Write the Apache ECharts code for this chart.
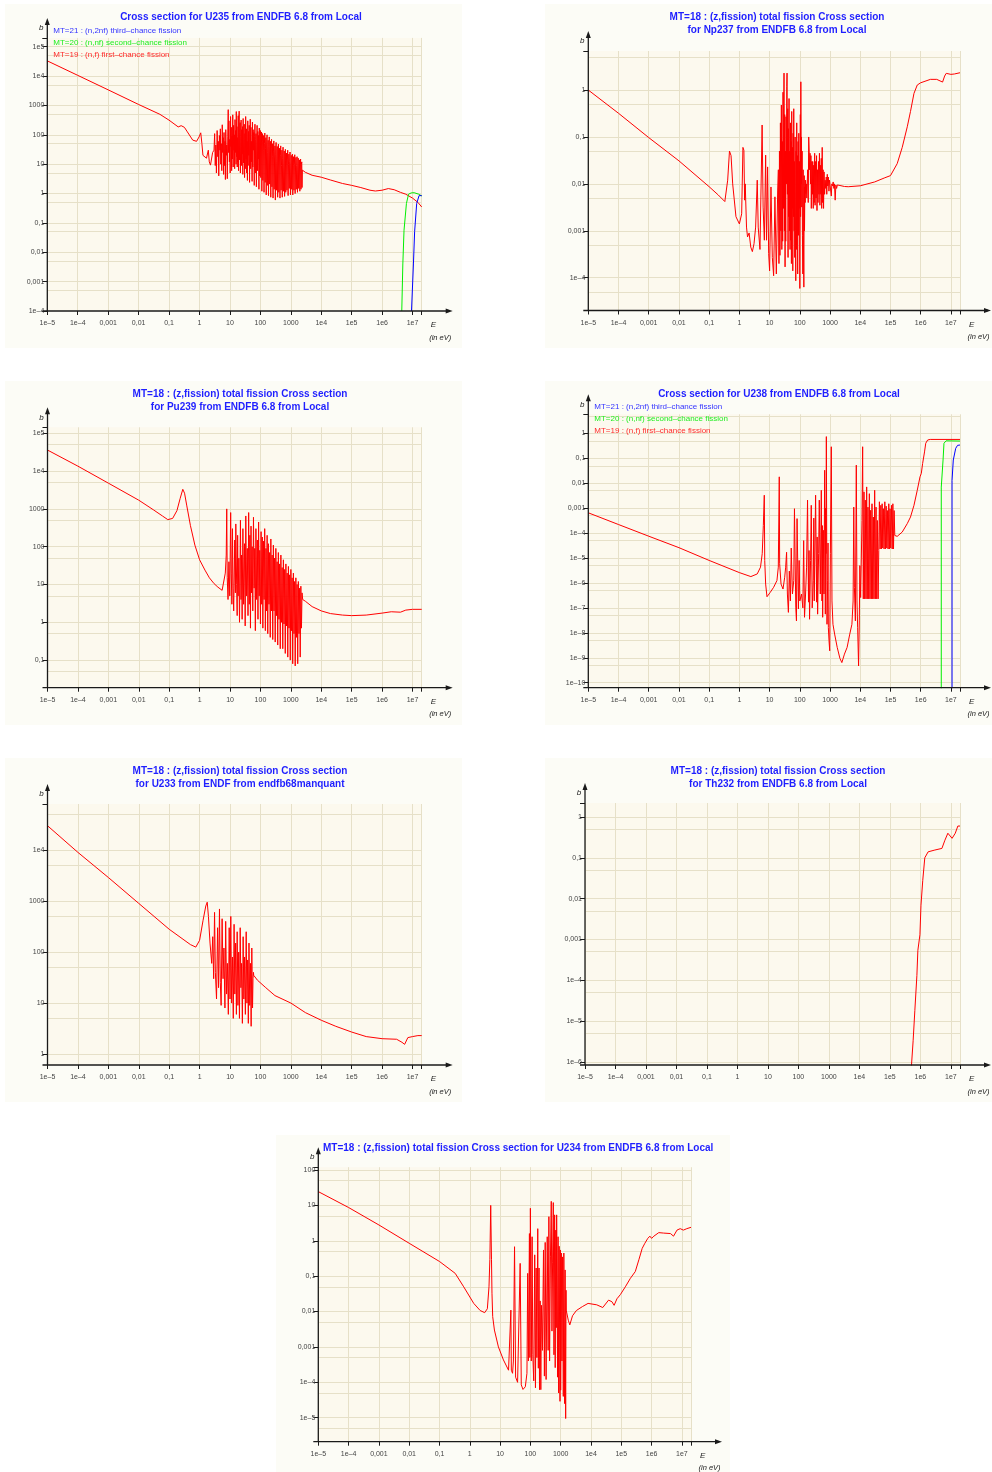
<!DOCTYPE html>
<html><head><meta charset="utf-8">
<script src="https://cdn.jsdelivr.net/npm/echarts@6/dist/echarts.min.js"></script>
<style>html,body{margin:0;padding:0;background:#fff}#c{width:992px;height:1472px}</style>
</head><body><div id="c"></div><script>
// ---------- tick labels ----------
const tickExponents = [-10,-9,-8,-7,-6,-5,-4,-3,-2,-1,0,1,2,3,4,5,6,7];
const tickLabels = ['1e–10','1e–9','1e–8','1e–7','1e–6','1e–5','1e–4','0,001','0,01','0,1','1','10','100','1000','1e4','1e5','1e6','1e7'];
const xMinE = 1e-5, xMaxE = 2e7;

// ---------- data: [E (eV), sigma (b)] ----------
const u235_mt19 = [[1e-5,3.3e4],[1e-4,1.06e4],[1e-3,3.4e3],[0.01,1.08e3],[0.05,500],[0.1,316],[0.2,186],[0.25,205],[0.28,214],[0.32,180],[0.4,126],[0.6,66],[0.8,60],[0.97,85],[1.1,117],[1.2,50],[1.3,20],[1.7,16],[1.95,30],[2.1,12],[2.3,9.3],[2.7,25],
[3.0,30],[3.15,110],[3.3,9],[3.45,45],[3.6,5],[3.8,140],[4.0,18],[4.15,60],[4.3,4],[4.5,95],[4.7,30],[4.85,160],[5.0,10],[5.2,50],[5.4,6],[5.6,220],[5.8,25],[6.0,80],[6.2,4.5],[6.4,120],[6.6,9],[6.9,60],[7.1,3],[7.3,150],[7.6,20],[7.9,45],[8.2,3.2],[8.5,90],[8.8,720],[9.0,25],[9.3,300],[9.6,12],[9.9,70],[10.2,5],[10.5,420],[10.8,40],[11.1,180],[11.4,6],[11.7,90],[12.0,15],[12.4,480],[12.8,8],[13.2,210],[13.6,30],[14.0,100],[14.3,7],[14.7,330],[15.1,25],[15.5,140],[15.9,10],[16.2,620],[16.6,18],[17.0,190],[17.4,8],[17.8,80],[18.2,12],[18.7,450],[19.2,6],[19.7,200],[20.1,640],[20.6,14],[21.1,120],[21.6,260],[22.1,5],[22.7,90],[23.3,320],[23.9,9],[24.5,150],[25.2,22],[25.9,190],[26.5,4.5],[27.2,360],[28,11],[28.7,70],[29.5,230],[30.3,3.5],[31.1,110],[32,7],[32.9,420],[33.8,15],[34.7,160],[35.6,5],[36.6,60],[37.6,2.8],[38.6,300],[39.7,9],[40.8,130],[41.9,20],[43,210],[44.2,2.4],[45.4,90],[46.6,340],[47.9,7],[49.2,180],[50.5,12],[52,60],[53.5,2.6],[55,270],[56.5,8],[58,150],[59.6,30],[61.2,120],[63,1.9],[64.7,90],[66.5,230],[68.3,5],[70.2,70],[72,110],[74,1.7],[76,45],[78.2,210],[80.4,6],[82.6,130],[85,15],[87.3,95],[89.8,1.4],[92.3,170],[95,4],[97.5,60],[100.3,140],[103,3.5],[106,40],[109,125],[112,1.2],[115,60],[118,110],[121,2.8],[125,30],[128.5,95],[132,1.1],[136,50],[140,115],[144,2.4],[148,35],[152,80],[156,0.9],[161,45],[166,100],[170,1.9],[175,25],[180,65],[185,0.85],[191,40],[196,85],[202,2.1],[208,20],[214,60],[220,0.75],[226,35],[233,70],[240,1.7],[247,18],[254,50],[261,0.7],[269,28],[277,62],[285,1.4],[293,15],[302,42],[311,0.6],[320,22],[329,55],[339,1.3],[349,12],[359,40],[370,0.75],[381,18],[392,48],[404,1.1],[416,10],[428,35],[441,0.7],[454,20],[467,42],[481,1.3],[495,9],[510,30],[525,0.75],[541,16],[557,38],[573,1.2],[590,8],[608,28],[626,0.8],[645,18],[664,32],[684,1.1],[704,9],[725,24],[747,1.3],[769,14],[792,30],[816,0.85],[840,10],[865,22],[891,1.5],[918,12],[945,26],[974,0.9],[1003,8],[1033,20],[1064,1.4],[1096,11],[1129,22],[1163,0.9],[1198,9],[1234,18],[1271,1.3],[1309,10],[1348,21],[1389,1],[1430,8],[1473,17],[1517,1.4],[1563,9],[1610,18],[1658,1.1],[1708,8],[1759,16],[1812,1.5],[1866,9],[1922,14],[1980,1.2],[2039,8],[2100,15],[2163,1.4],[2228,10],[2295,12],[2340,1.6],[2400,6.3],
[2500,6],[3000,5.3],[5000,4.2],[1e4,3.6],[2e4,2.9],[5e4,2.2],[1e5,1.9],[2e5,1.6],[4e5,1.3],[6e5,1.22],[1e6,1.3],[1.6e6,1.48],[2.5e6,1.35],[4e6,1.1],[6e6,0.95],[1e7,0.7],[1.5e7,0.5],[2e7,0.35]];
const u235_mt20 = [[4.43e6,1e-4],[4.8e6,4e-3],[5.25e6,0.056],[6.3e6,0.46],[7.4e6,0.95],[9e6,1.05],[1.13e7,1.07],[1.6e7,0.95],[2e7,0.83]];
const u235_mt21 = [[9.25e6,1e-4],[1.07e7,4e-3],[1.17e7,0.05],[1.37e7,0.46],[1.64e7,0.85],[2e7,0.85]];

const np237_mt18 = [[1e-5,1.0],[1e-4,0.32],[1e-3,0.097],[0.01,0.031],[0.1,8.7e-3],[0.2,5.8e-3],[0.33,4.2e-3],[0.41,0.012],[0.47,0.05],[0.53,0.04],[0.6,0.01],[0.77,2e-3],[1.0,1.4e-3],[1.19,2.3e-3],[1.31,0.06],[1.41,0.052],[1.49,4.5e-3],[1.56,0.01],[1.72,1.2e-3],[1.86,7.4e-4],[2.1,9e-4],[2.38,4.5e-4],[2.69,3.6e-4],[3.05,5.3e-4],[3.45,1.2e-3],[3.9,0.012],[4.2,1.2e-3],[4.8,4e-4],[5.65,0.18],[6.1,3.2e-3],[6.7,6.3e-4],[7.4,0.041],[7.9,6.3e-4],[8.6,0.023],[9.3,3.3e-4],[10,1.4e-4],[11.1,8.6e-3],[12.3,2.7e-4],[13.6,1.1e-4],[15,5.3e-3],[16.7,1.2e-4],[18.5,7.4e-3],
[19.5,0.02],[20.4,2e-4],[21.2,0.05],[22,3e-4],[22.8,0.2],[23.6,1e-3],[24.5,0.48],[25.4,4e-4],[26.4,0.08],[27.1,6e-4],[27.8,0.9],[28.6,3e-3],[29.3,0.2],[30,2.3],[30.8,1e-3],[31.6,0.3],[32.5,1.7e-4],[33.4,0.05],[34.2,6e-4],[35,0.27],[36,0.01],[37,1.2],[37.8,2.3],[38.8,6e-3],[39.8,0.4],[40.8,2.7e-4],[42,0.15],[43,2e-3],[44,0.66],[45.2,1e-3],[46.4,0.05],[47.6,4e-4],[48.8,0.2],[50,6.3e-4],[51.4,0.08],[52.7,2e-4],[54,0.35],[55.4,3e-3],[56.9,0.06],[58.5,1.4e-4],[60,0.12],[61.5,2e-3],[63,0.4],[64.6,1e-3],[66.2,0.03],[68,2.7e-4],[69.8,0.1],[71.6,1e-3],[73.5,8.6e-5],[75.4,0.05],[77.2,4e-4],[79,0.2],[81,1e-3],[83,0.04],[85,1.2e-4],[87.5,0.08],[90,8e-4],[92.6,0.12],[95,3e-3],[97.5,0.03],[100,5.9e-5],[104,0.3],[106,2e-3],[108,1.5],[111,0.01],[113.5,0.1],[116,3.2e-3],[119,0.05],[122,8e-4],[126,1.2e-4],[129,0.02],[132,5e-4],[136,6.3e-5],[140,0.015],[143,1e-3],[147,8.6e-3],[151,4e-3],[155,0.012],[158,6.2e-3],[164,0.01],[170,5e-3],[175,0.01],
[182,0.02],[190,0.004],[197,0.1],[204,0.05],[210,0.02],[218,0.045],[225,0.01],[233,0.04],[240,3e-3],[250,0.03],[260,6e-3],[268,0.03],[278,3e-3],[288,0.025],[298,4e-3],[310,0.045],[320,3.5e-3],[332,0.03],[345,5e-3],[358,0.04],[370,2.7e-3],[385,0.02],[400,4e-3],[415,0.03],[430,6e-3],[446,0.045],[462,3.5e-3],[478,0.025],[495,6e-3],[512,0.035],[530,3e-3],[550,0.06],[570,4e-3],[590,0.02],[610,3e-3],[635,0.018],[660,6e-3],[690,0.012],[720,0.008],[750,0.014],[780,0.006],[810,0.016],[840,0.009],[880,0.014],[920,0.007],[960,0.012],[1000,0.011],[1050,0.012],[1100,0.0055],[1150,0.01],[1200,0.009],[1270,0.011],[1340,0.008],[1400,0.01],[1480,0.0045],[1560,0.0095],[1650,0.008],[1750,0.0095],[1850,0.009],[2000,0.0092],[3000,0.0088],
[4e3,0.0087],[1e4,0.0091],[3e4,0.011],[6.5e4,0.0135],[1e5,0.015],[1.67e5,0.027],[2.45e5,0.06],[3.6e5,0.165],[4.6e5,0.35],[6e5,0.85],[7.7e5,1.28],[1e6,1.43],[2.1e6,1.69],[3.4e6,1.69],[5.3e6,1.48],[6.2e6,1.99],[7e6,2.27],[1e7,2.16],[1.3e7,2.2],[2e7,2.34]];

const pu239_mt18 = [[1e-5,3.6e4],[1e-4,1.35e4],[1e-3,4.8e3],[0.01,1.7e3],[0.03,950],[0.06,650],[0.09,520],[0.13,560],[0.18,900],[0.23,1.9e3],[0.28,3.3e3],[0.32,2.6e3],[0.38,1.2e3],[0.5,360],[0.7,110],[1,45],[1.5,24],[2.1,15],[3,10.5],[4,8.5],[5.5,7],
[7,20],[7.5,60],[7.8,1000],[8.1,15],[8.6,4],[9.2,40],[9.8,5],[10.5,800],[11,20],[11.5,3],[12,300],[12.6,8],[13.2,2],[14.3,150],[15,6],[15.5,400],[16.5,10],[17.2,1.5],[17.8,200],[18.5,5],[19.5,50],[20.5,1],[22,500],[23,4],[24,60],[25,1.2],[26.5,300],[28,3],[30,120],[31.5,0.8],[33,650],[35,5],[37,90],[39,1.5],[41,800],[43,3],[45,200],[47,0.7],[49,350],[51,6],[53.5,100],[56,2],[59,600],[62,8],[65,90],[68,0.6],[71,300],[75,4],[79,150],[83,1.2],[87,450],[91,5],[95,80],[100,0.9],[105,250],[110,3],[115,180],[120,0.7],[126,140],[132,4],[138,300],[145,0.6],[152,90],[159,2],[166,200],[174,0.5],[182,120],[191,3],[200,70],[210,0.4],[220,160],[231,2],[242,60],[254,0.35],[266,110],[279,2],[292,50],[306,0.3],[321,90],[337,1.5],[353,40],[370,0.25],[388,70],[407,1.2],[427,35],[448,0.2],[470,60],[493,1],[517,28],[542,0.2],[568,45],[596,0.9],[625,25],[655,0.15],[687,35],[720,0.8],[755,20],[792,0.12],[830,30],[870,0.7],[912,18],[956,0.1],[1000,25],[1050,0.6],[1100,15],[1150,0.08],[1210,20],[1270,0.5],[1330,12],[1390,0.07],[1460,15],[1530,0.4],[1600,10],[1680,0.08],[1760,12],[1850,0.5],[1940,8],[2030,0.12],[2130,9],[2230,0.7],[2330,6],[2450,4],
[3000,3.6],[5000,2.6],[1e4,2.0],[2e4,1.7],[5e4,1.55],[1e5,1.5],[3e5,1.55],[1e6,1.75],[2e6,1.9],[4e6,1.85],[6e6,2.1],[1e7,2.2],[2e7,2.2]];

const u238_mt19 = [[1e-5,6.5e-4],[1e-4,2.2e-4],[1e-3,7.5e-5],[0.01,2.6e-5],[0.1,8e-6],[1,2.6e-6],[2.4,1.8e-6],[3.9,2.3e-6],[5,4.3e-6],[5.7,1.5e-5],[6.2,2e-4],[6.67,3.3e-3],[6.9,8e-6],[7.4,9e-7],[8.2,2.8e-7],[10.5,4.2e-7],[13.6,6.7e-7],[17.5,1.25e-6],[19.4,4.3e-6],[20.9,0.018],[21.5,5.9e-6],[23.9,9e-7],[27.8,5.7e-7],[31.6,1.7e-6],[34,4.3e-6],[36.5,1.7e-5],[38.8,3.6e-7],[41.9,6.6e-8],[45,3e-6],[48.8,1.9e-7],[52,2.5e-5],[57,3.6e-7],[63,1.25e-6],[66.5,9.5e-4],[73.6,1e-7],[77.4,3e-8],[81,3.8e-4],[90,9e-8],[95,8e-6],[100,1.9e-7],[114,3.6e-7],[126,1e-7],[134,5e-5],[143,4.2e-8],[155,3.6e-7],[167,4.3e-6],[180,2.1e-3],[194,1.7e-7],[202,2e-5],[210,3.5e-8],[227,8e-6],[239,1.3e-3],[257,1e-7],[278,1.25e-6],[290,4e-4],[300,1.9e-7],[333,3.3e-3],[360,1.7e-7],[375,7e-5],[388,5.6e-8],[419,1.5e-5],[441,2.1e-3],[476,3.6e-7],[514,5.2e-3],[541,1.9e-7],[556,2e-4],[570,4.2e-8],[600,1.3e-4],[631,3.6e-7],[664,0.033],[699,5.6e-8],[717,1e-3],[736,1.5e-5],[755,0.74],[794,2.2e-8],[836,1.25e-6],[858,4e-5],[880,1.6e-8],[926,4.8e-9],[975,1.9e-9],[1026,1.5e-5],[1100,0.29],[1160,1.9e-7],[1250,2.2e-8],[1420,8.9e-9],[1730,2.6e-9],[2120,9.5e-10],[2460,6.4e-10],[2720,7.4e-10],[3000,1.4e-9],[3670,2.6e-9],[4500,8.9e-9],[5300,2.2e-8],[5800,1.9e-7],[6100,1.1e-3],[6400,6.7e-7],[6900,3e-8],[7400,0.053],[7800,1.9e-7],[8200,1.6e-8],[8800,4.7e-10],[9300,3e-8],[9700,5e-6],
[1.03e4,2.6e-7],[1.14e4,3.2e-4],[1.2e4,0.29],[1.26e4,2.3e-7],[1.33e4,4.5e-3],[1.4e4,2.3e-7],[1.47e4,2.1e-3],[1.55e4,2.3e-7],[1.63e4,7.1e-3],[1.71e4,2.3e-7],[1.8e4,1.1e-3],[1.9e4,2.3e-7],[2e4,3.8e-3],[2.1e4,2.3e-7],[2.21e4,8.2e-4],[2.33e4,2.3e-7],[2.45e4,1.5e-3],[2.58e4,2.3e-7],[2.71e4,4.4e-4],[2.85e4,2.3e-7],[3e4,5.2e-3],[3.16e4,2.3e-7],[3.33e4,1.1e-3],[3.5e4,2.3e-7],[3.69e4,3.2e-4],[3.9e4,2.3e-7],[4.1e4,2e-5],
[4.3e4,1.8e-3],[4.55e4,2.3e-5],[4.8e4,1.3e-3],[5.05e4,2.3e-5],[5.3e4,1.5e-3],[5.55e4,2.5e-5],[5.8e4,9.5e-4],[6.15e4,2.3e-5],[6.5e4,1.8e-3],[6.85e4,2.3e-5],[7.2e4,1.2e-3],[7.55e4,2.5e-5],[7.9e4,8e-4],[8.35e4,2.3e-5],[8.8e4,1.5e-3],[9.25e4,2.3e-5],[9.7e4,9.5e-4],[1.02e5,2.5e-5],[1.08e5,1.3e-3],[1.14e5,2.3e-5],[1.2e5,1.5e-3],[1.26e5,2.3e-5],[1.32e5,8e-4],[1.39e5,8e-5],
[1.67e5,7.4e-5],[2.45e5,1.1e-4],[3.6e5,2.4e-4],[4.6e5,4.4e-4],[6e5,1.3e-3],[7.7e5,5.2e-3],[9.5e5,0.018],[1.05e6,0.025],[1.16e6,0.062],[1.34e6,0.18],[1.47e6,0.4],[1.7e6,0.54],[2.07e6,0.57],[2e7,0.57]];
const u238_mt20 = [[4.8e6,1e-12],[4.8e6,7e-3],[5.5e6,0.085],[5.9e6,0.4],[6.9e6,0.5],[2e7,0.49]];
const u238_mt21 = [[1.09e7,1e-12],[1.09e7,0.013],[1.2e7,0.085],[1.44e7,0.25],[1.66e7,0.33],[2e7,0.34]];

const u233_mt18 = [[1e-5,3e4],[1e-4,9e3],[1e-3,2.9e3],[0.01,900],[0.1,280],[0.5,140],[0.75,125],[1.0,170],[1.3,420],[1.6,800],[1.78,950],[1.95,500],[2.2,150],[2.5,60],
[2.7,200],[2.9,30],[3.1,600],[3.3,40],[3.6,12],[3.9,300],[4.2,20],[4.5,700],[4.8,25],[5.1,9],[5.5,450],[5.9,30],[6.3,120],[6.8,8],[7.2,400],[7.7,15],[8.2,60],[8.8,6],[9.4,300],[10,12],[10.6,500],[11.3,10],[12,80],[12.8,5],[13.6,350],[14.4,15],[15.3,150],[16.2,6],[17.2,250],[18.2,9],[19.3,100],[20.4,5],[21.6,300],[22.8,20],[24,60],[25.5,4],[27,200],[28.5,12],[30,80],[32,6],[34,250],[36,10],[38,70],[40,4],[42,150],[44.5,9],[47,60],[49.5,3.5],[52,120],[55,8],[57,30],[59,40],[60,35],
[80,28],[150,20],[300,14],[1000,10],[3000,6.5],[1e4,4.6],[3e4,3.5],[1e5,2.7],[3e5,2.2],[1e6,2.0],[3e6,1.95],[4.5e6,1.7],[5.5e6,1.55],[7e6,2.1],[1e7,2.2],[1.5e7,2.3],[2e7,2.3]];

const th232_mt18 = [[4.9e5,5e-7],[5.8e5,3.3e-6],[6.6e5,1.8e-5],[7.7e5,1.3e-4],[8.3e5,5.4e-4],[9.7e5,1.3e-3],[1.05e6,6.9e-3],[1.2e6,0.028],[1.4e6,0.1],[1.8e6,0.14],[3e6,0.155],[5.1e6,0.17],[6.4e6,0.27],[8e6,0.4],[1.1e7,0.3],[1.4e7,0.4],[1.7e7,0.6],[2e7,0.6]];

const u234_mt18 = [[1e-5,24.5],[1e-4,8.7],[1e-3,2.8],[0.01,0.85],[0.1,0.26],[0.33,0.12],[0.63,0.05],[1.35,0.017],[2.2,0.0107],[3.1,9.3e-3],[3.8,0.012],[4.3,0.05],[4.6,0.3],[4.9,10],[5.2,0.3],[5.4,0.033],[5.7,7.2e-3],[6.5,3e-3],[8.8,1e-3],[12.9,4.3e-4],[19,2.2e-4],[21.5,2e-4],[22.7,0.011],[23.5,2.2e-4],[25.8,1.8e-4],[27.5,4e-4],[30,0.68],[32.5,1.4e-4],[37.8,1e-4],[44,1.1e-4],[46,0.23],[50,8.5e-5],[57,6.3e-5],[68,7.5e-5],[77,1.8e-4],[81.5,0.12],[86,4e-4],[93,1.6],[96,5e-4],[100,8.3],[107,4e-4],[114,1.3],[120,6e-4],[129,1.1e-4],[139,0.4],[147,7e-5],[155,0.17],[164,5e-4],[175,2.2],[183,2.5e-4],[193,0.17],[200,6.2e-5],[210,0.02],[221,6.2e-5],[232,0.015],[250,8e-4],[271,0.55],[290,1.5e-4],[308,0.9],[330,1.2e-4],[360,1.3],[385,8e-4],[408,4.8],[430,4e-4],[460,0.35],[489,13],[515,2.8e-3],[540,0.25],[570,12],[600,6e-4],[631,5.4],[660,2.6e-4],[690,2],[715,3.5e-3],[736,5.4],[790,1.4e-4],[820,1.3],[857,5e-5],[890,0.7],[950,2.9e-5],[980,0.55],[1000,6e-5],[1050,0.45],[1100,4e-4],[1150,0.35],[1220,4e-5],[1270,0.45],[1350,2.5e-5],[1400,0.15],[1460,9.5e-6],[1500,0.04],[1520,0.011],[1780,5.7e-3],[2000,4.2e-3],[2460,7.6e-3],[3300,0.0107],[5200,0.0138],[8000,0.017],[1.55e4,0.0155],[2.45e4,0.013],[3.8e4,0.021],[4.9e4,0.019],[5.8e4,0.015],[7.2e4,0.023],[9.3e4,0.03],[1.05e5,0.027],[1.36e5,0.05],[2e5,0.087],[2.9e5,0.135],[3.8e5,0.29],[4.9e5,0.61],[6e5,0.85],[7.5e5,1.17],[8.8e5,1.35],[1e6,1.17],[1.19e6,1.35],[1.73e6,1.7],[2.5e6,1.65],[4.2e6,1.6],[5.3e6,1.35],[6.9e6,2.0],[8.8e6,2.2],[1.12e7,2.0],[1.45e7,2.2],[2e7,2.4]];

// ---------- style ----------
const FONT = '"Liberation Sans", Arial, Helvetica, sans-serif';
const RED = '#ff0000', GREEN = '#00ee00', BLUE = '#0000ff';
const TITLE_C = '#1f1fff', AXIS_C = '#1a1a1a', LABEL_C = '#444444', GRID_C = '#e6e0c8', PLOT_BG = '#fcf9ee', PANEL_BG = '#fcfcf6';

const panels = [
  {left:47.3, top:37.9, right:421.7, bottom:311, yMin:1e-4, yMax:2e5, box:[5,4,457,344],
   title:[['Cross section for U235 from ENDFB 6.8 from Local',241,17.5]], align:'center',
   legend:[['MT=21 : (n,2nf) third–chance fission','#3535ff'],['MT=20 : (n,nf) second–chance fission','#22ee22'],['MT=19 : (n,f) first–chance fission','#ff2a2a']],
   series:[[u235_mt19,RED],[u235_mt20,GREEN],[u235_mt21,BLUE]]},
  {left:588.3, top:51, right:960, bottom:310.5, yMin:2e-5, yMax:6.8, box:[545,4,447,344],
   title:[['MT=18 : (z,fission) total fission Cross section',777,17.5],['for Np237 from ENDFB 6.8 from Local',777,30.5]], align:'center',
   legend:[], series:[[np237_mt18,RED]]},
  {left:47.5, top:427.3, right:421.7, bottom:687.7, yMin:0.0186, yMax:1.44e5, box:[5,381,457,344],
   title:[['MT=18 : (z,fission) total fission Cross section',240,394.5],['for Pu239 from ENDFB 6.8 from Local',240,407.5]], align:'center',
   legend:[], series:[[pu239_mt18,RED]]},
  {left:588.3, top:414.3, right:960, bottom:687.7, yMin:6.3e-11, yMax:5.8, box:[545,381,447,344],
   title:[['Cross section for U238 from ENDFB 6.8 from Local',779,394.5]], align:'center',
   legend:[['MT=21 : (n,2nf) third–chance fission','#3535ff'],['MT=20 : (n,nf) second–chance fission','#22ee22'],['MT=19 : (n,f) first–chance fission','#ff2a2a']],
   series:[[u238_mt19,RED],[u238_mt20,GREEN],[u238_mt21,BLUE]]},
  {left:47.5, top:804, right:421.7, bottom:1065, yMin:0.61, yMax:8e4, box:[5,758,457,344],
   title:[['MT=18 : (z,fission) total fission Cross section',240,771.5],['for U233 from ENDF from endfb68manquant',240,784.5]], align:'center',
   legend:[], series:[[u233_mt18,RED]]},
  {left:585, top:803, right:960, bottom:1065, yMin:8.4e-7, yMax:2.2, box:[545,758,447,344],
   title:[['MT=18 : (z,fission) total fission Cross section',778,771.5],['for Th232 from ENDFB 6.8 from Local',778,784.5]], align:'center',
   legend:[], series:[[th232_mt18,RED]]},
  {left:318.3, top:1167.2, right:691, bottom:1441.7, yMin:2.1e-6, yMax:120, box:[276,1135,454,337],
   title:[['MT=18 : (z,fission) total fission Cross section for U234 from ENDFB 6.8 from Local',323,1148.5]], align:'left',
   legend:[], series:[[u234_mt18,RED]]}
];

// ---------- helpers ----------
const L = Math.log10;
function labelOf(v){
  const r = Math.round(v);
  if (Math.abs(v - r) > 1e-6) return '';
  const k = tickExponents.indexOf(r);
  return k < 0 ? '' : tickLabels[k];
}
function decades(lo, hi){ const out=[]; for(let e=Math.ceil(lo-1e-9); e<=Math.floor(hi+1e-9); e++) out.push(e); return out; }

const grids=[], xAxes=[], yAxes=[], series=[], gfx=[];
panels.forEach((p,i)=>{
  const ylo = L(p.yMin), yhi = L(p.yMax);
  const dec = decades(ylo, yhi);
  grids.push({left:p.left, top:p.top, width:p.right-p.left, height:p.bottom-p.top, show:true, backgroundColor:PLOT_BG, borderWidth:0, containLabel:false});
  xAxes.push({type:'value', gridIndex:i, position:'bottom', min:L(xMinE), max:L(xMaxE), interval:1,
    axisLine:{show:false, onZero:false}, axisTick:{show:true, length:4, lineStyle:{color:AXIS_C}},
    axisLabel:{show:true, fontSize:7, color:LABEL_C, fontFamily:FONT, margin:9, formatter:labelOf, showMinLabel:true, showMaxLabel:true, hideOverlap:false},
    splitLine:{show:true, lineStyle:{color:GRID_C, width:1}}});
  yAxes.push({type:'value', gridIndex:i, position:'left', min:ylo, max:yhi,
    axisLine:{show:false, onZero:false},
    axisTick:{show:true, length:5, customValues:dec.concat([yhi]), lineStyle:{color:AXIS_C}},
    axisLabel:{show:true, customValues:dec, fontSize:7, color:LABEL_C, fontFamily:FONT, margin:3, padding:[4,0,0,0], formatter:labelOf, hideOverlap:false},
    splitLine:{show:false}});
  // horizontal grid lines at 10^n and 5*10^(n-1)
  const hl = [];
  for (let e=Math.floor(ylo)-1; e<=Math.ceil(yhi)+1; e++){
    [e, e-L(2)].forEach(v=>{ if (v>ylo+1e-6 && v<yhi-1e-6) hl.push({yAxis:v}); });
  }
  series.push({type:'line', xAxisIndex:i, yAxisIndex:i, data:[], silent:true, z:1,
    markLine:{silent:true, symbol:['none','none'], label:{show:false}, animation:false, z:1,
      lineStyle:{color:GRID_C, width:1, type:'solid'}, emphasis:{disabled:true}, data:hl}});
  p.series.forEach(([arr,col])=>{
    series.push({type:'line', xAxisIndex:i, yAxisIndex:i, data:arr.map(d=>[L(d[0]), L(d[1])]),
      showSymbol:false, symbol:'none', silent:true, z:3, clip:true, animation:false,
      lineStyle:{color:col, width:1}, itemStyle:{color:col}});
  });
  gfx.push({type:'rect', z:-100, silent:true, shape:{x:p.box[0], y:p.box[1], width:p.box[2], height:p.box[3]}, style:{fill:PANEL_BG}});
  gfx.push({type:'line', z:50, silent:true, shape:{x1:p.left-5, y1:p.bottom, x2:p.right+28, y2:p.bottom}, style:{stroke:AXIS_C, lineWidth:1.3}});
  gfx.push({type:'polygon', z:50, silent:true, shape:{points:[[p.right+31,p.bottom],[p.right+24,p.bottom-2.5],[p.right+24,p.bottom+2.5]]}, style:{fill:AXIS_C}});
  gfx.push({type:'line', z:50, silent:true, shape:{x1:p.left, y1:p.bottom, x2:p.left, y2:p.top-16}, style:{stroke:AXIS_C, lineWidth:1.3}});
  gfx.push({type:'polygon', z:50, silent:true, shape:{points:[[p.left,p.top-20],[p.left-2.5,p.top-13],[p.left+2.5,p.top-13]]}, style:{fill:AXIS_C}});
  gfx.push({type:'text', z:60, silent:true, x:p.left-6, y:p.top-10, style:{text:'b', font:'italic 8px '+FONT, fill:'#222', align:'center', verticalAlign:'middle', textAlign:'center', textVerticalAlign:'middle'}});
  gfx.push({type:'text', z:60, silent:true, x:p.right+9, y:p.bottom+14, style:{text:'E', font:'italic 8px '+FONT, fill:'#222', align:'left', verticalAlign:'middle', textAlign:'left', textVerticalAlign:'middle'}});
  gfx.push({type:'text', z:60, silent:true, x:p.right+7.5, y:p.bottom+26.5, style:{text:'(in eV)', font:'italic 7.5px '+FONT, fill:'#222', align:'left', verticalAlign:'middle', textAlign:'left', textVerticalAlign:'middle'}});
  p.title.forEach(([t,x,y])=>{
    gfx.push({type:'text', z:60, silent:true, x:x, y:y, style:{text:t, font:'bold 10px '+FONT, fill:TITLE_C, align:p.align, verticalAlign:'middle', textAlign:p.align, textVerticalAlign:'middle'}});
  });
  p.legend.forEach(([t,c],k)=>{
    gfx.push({type:'text', z:60, silent:true, x:p.left+6, y:p.top-7.5+12*k, style:{text:t, font:'8px '+FONT, fill:c, align:'left', verticalAlign:'middle', textAlign:'left', textVerticalAlign:'middle'}});
  });
});

const chart = echarts.init(document.getElementById('c'), null, {renderer:'canvas'});
chart.setOption({animation:false, backgroundColor:'#ffffff', grid:grids, xAxis:xAxes, yAxis:yAxes, series:series, graphic:{elements:gfx}});
</script></body></html>
